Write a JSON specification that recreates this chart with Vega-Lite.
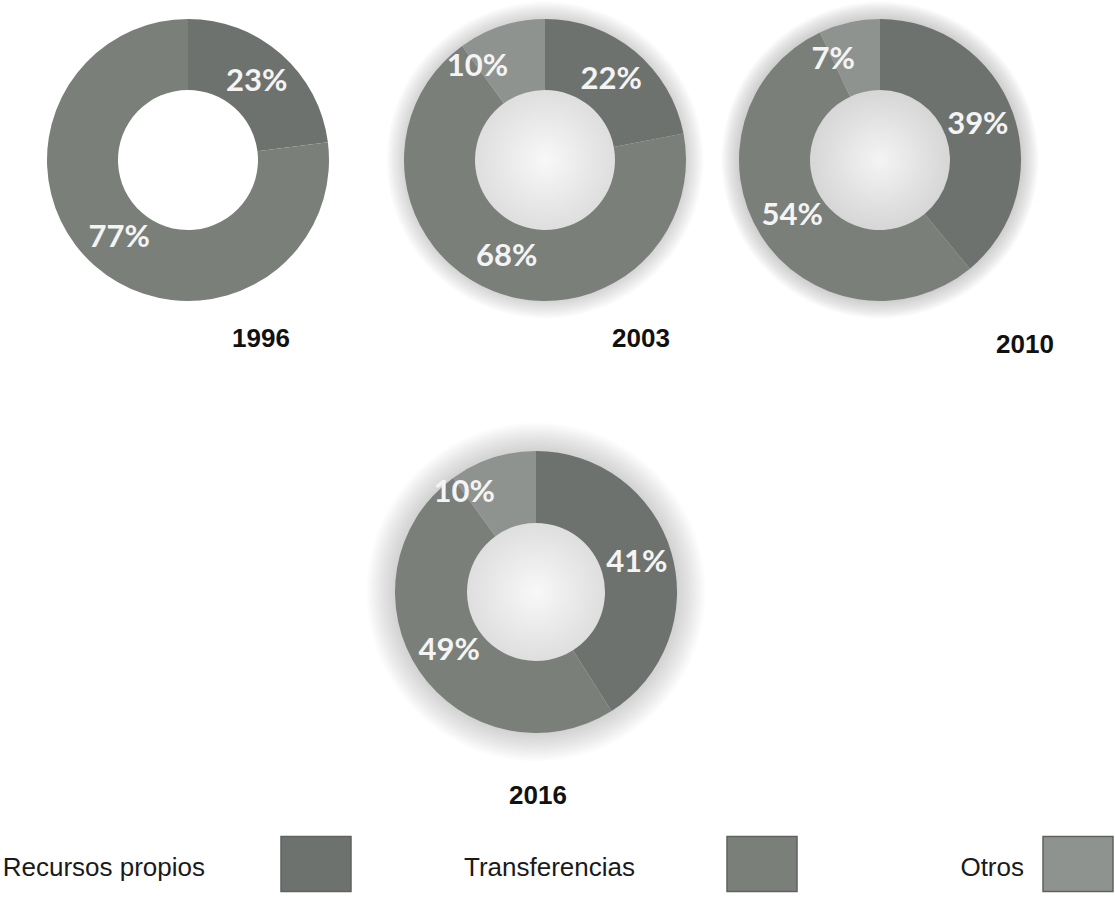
{
  "$schema": "https://vega.github.io/schema/vega-lite/v6.json",
  "padding": 0,
  "autosize": {"type": "pad"},
  "background": "white",
  "spacing": 48,
  "config": {"view": {"stroke": null}},
  "datasets": {
    "fuentes": [
      {"anio": 1996, "fuente": "Recursos propios", "orden": 1, "valor": 0.23},
      {"anio": 1996, "fuente": "Transferencias", "orden": 2, "valor": 0.77},
      {"anio": 2003, "fuente": "Recursos propios", "orden": 1, "valor": 0.22},
      {"anio": 2003, "fuente": "Transferencias", "orden": 2, "valor": 0.68},
      {"anio": 2003, "fuente": "Otros", "orden": 3, "valor": 0.10},
      {"anio": 2010, "fuente": "Recursos propios", "orden": 1, "valor": 0.39},
      {"anio": 2010, "fuente": "Transferencias", "orden": 2, "valor": 0.54},
      {"anio": 2010, "fuente": "Otros", "orden": 3, "valor": 0.07},
      {"anio": 2016, "fuente": "Recursos propios", "orden": 1, "valor": 0.41},
      {"anio": 2016, "fuente": "Transferencias", "orden": 2, "valor": 0.49},
      {"anio": 2016, "fuente": "Otros", "orden": 3, "valor": 0.10}
    ],
    "leyenda": [
      {"fuente": "Recursos propios"},
      {"fuente": "Transferencias"},
      {"fuente": "Otros"}
    ]
  },
  "vconcat": [
    {
      "bounds": "flush",
      "spacing": 0,
      "hconcat": [
        {
          "width": 376, "height": 320,
          "title": {"text": "1996", "orient": "bottom", "anchor": "middle", "dx": 73, "offset": 6, "baseline": "top", "font": "Liberation Sans", "fontSize": 26, "fontWeight": "bold", "color": "#111111"},
          "data": {"name": "fuentes"},
          "transform": [{"filter": "datum.anio == 1996"}],
          "layer": [
            {
              "mark": {"type": "arc", "outerRadius": 141, "innerRadius": 70},
              "encoding": {
                "theta": {"field": "valor", "type": "quantitative", "stack": true, "scale": {"domain": [0, 1]}},
                "color": {"field": "fuente", "type": "nominal", "scale": {"domain": ["Recursos propios", "Transferencias", "Otros"], "range": ["#6e726e", "#7b7f7a", "#8f938f"]}, "legend": null},
                "order": {"field": "orden", "type": "quantitative"}
              }
            },
            {
              "mark": {"type": "text", "radius": 104, "align": "center", "baseline": "middle", "font": "Lato", "fontWeight": "bold", "fontSize": 31, "fill": "#f4f4f4"},
              "encoding": {
                "theta": {"field": "valor", "type": "quantitative", "stack": true, "scale": {"domain": [0, 1]}},
                "detail": {"field": "fuente", "type": "nominal"},
                "order": {"field": "orden", "type": "quantitative"},
                "text": {"field": "valor", "type": "quantitative", "format": ".0%"}
              }
            }
          ]
        },
        {
          "width": 338, "height": 320,
          "title": {"text": "2003", "orient": "bottom", "anchor": "middle", "dx": 96, "offset": 6, "baseline": "top", "font": "Liberation Sans", "fontSize": 26, "fontWeight": "bold", "color": "#111111"},
          "data": {"name": "fuentes"},
          "transform": [{"filter": "datum.anio == 2003"}],
          "layer": [
            {
              "data": {"values": [{}]},
              "mark": {"type": "arc", "theta": 0, "theta2": 6.2832, "outerRadius": 159, "innerRadius": 0, "fill": {"gradient": "radial", "x1": 0.5, "y1": 0.5, "r1": 0, "x2": 0.5, "y2": 0.5, "r2": 0.5, "stops": [{"offset": 0, "color": "#f8f8f8"}, {"offset": 0.44, "color": "#dedede"}, {"offset": 0.88, "color": "#d2d2d2"}, {"offset": 0.95, "color": "#ebebeb"}, {"offset": 1, "color": "#ffffff"}]}},
              "encoding": {}
            },
            {
              "mark": {"type": "arc", "outerRadius": 141, "innerRadius": 70},
              "encoding": {
                "theta": {"field": "valor", "type": "quantitative", "stack": true, "scale": {"domain": [0, 1]}},
                "color": {"field": "fuente", "type": "nominal", "scale": {"domain": ["Recursos propios", "Transferencias", "Otros"], "range": ["#6e726e", "#7b7f7a", "#8f938f"]}, "legend": null},
                "order": {"field": "orden", "type": "quantitative"}
              }
            },
            {
              "transform": [{"filter": "datum.fuente != 'Otros'"}],
              "mark": {"type": "text", "radius": 104, "align": "center", "baseline": "middle", "font": "Lato", "fontWeight": "bold", "fontSize": 31, "fill": "#f4f4f4"},
              "encoding": {
                "theta": {"field": "valor", "type": "quantitative", "stack": true, "scale": {"domain": [0, 1]}},
                "detail": {"field": "fuente", "type": "nominal"},
                "order": {"field": "orden", "type": "quantitative"},
                "text": {"field": "valor", "type": "quantitative", "format": ".0%"}
              }
            },
            {
              "transform": [
                {"stack": "valor", "groupby": ["anio"], "sort": [{"field": "orden", "order": "ascending"}], "as": ["v0", "v1"]},
                {"filter": "datum.fuente == 'Otros'"}
              ],
              "mark": {"type": "text", "radius": 115, "align": "center", "baseline": "middle", "font": "Lato", "fontWeight": "bold", "fontSize": 31, "fill": "#f4f4f4"},
              "encoding": {
                "theta": {"field": "v0", "type": "quantitative", "scale": {"domain": [0, 1]}},
                "text": {"field": "valor", "type": "quantitative", "format": ".0%"}
              }
            }
          ]
        },
        {
          "width": 332, "height": 320,
          "title": {"text": "2010", "orient": "bottom", "anchor": "middle", "dx": 145, "offset": 12, "baseline": "top", "font": "Liberation Sans", "fontSize": 26, "fontWeight": "bold", "color": "#111111"},
          "data": {"name": "fuentes"},
          "transform": [{"filter": "datum.anio == 2010"}],
          "layer": [
            {
              "data": {"values": [{}]},
              "mark": {"type": "arc", "theta": 0, "theta2": 6.2832, "outerRadius": 159, "innerRadius": 0, "fill": {"gradient": "radial", "x1": 0.5, "y1": 0.5, "r1": 0, "x2": 0.5, "y2": 0.5, "r2": 0.5, "stops": [{"offset": 0, "color": "#f4f4f4"}, {"offset": 0.44, "color": "#d6d6d6"}, {"offset": 0.88, "color": "#cccccc"}, {"offset": 0.95, "color": "#e6e6e6"}, {"offset": 1, "color": "#ffffff"}]}},
              "encoding": {}
            },
            {
              "mark": {"type": "arc", "outerRadius": 141, "innerRadius": 70},
              "encoding": {
                "theta": {"field": "valor", "type": "quantitative", "stack": true, "scale": {"domain": [0, 1]}},
                "color": {"field": "fuente", "type": "nominal", "scale": {"domain": ["Recursos propios", "Transferencias", "Otros"], "range": ["#6e726e", "#7b7f7a", "#8f938f"]}, "legend": null},
                "order": {"field": "orden", "type": "quantitative"}
              }
            },
            {
              "transform": [{"filter": "datum.fuente != 'Otros'"}],
              "mark": {"type": "text", "radius": 104, "align": "center", "baseline": "middle", "font": "Lato", "fontWeight": "bold", "fontSize": 31, "fill": "#f4f4f4"},
              "encoding": {
                "theta": {"field": "valor", "type": "quantitative", "stack": true, "scale": {"domain": [0, 1]}},
                "detail": {"field": "fuente", "type": "nominal"},
                "order": {"field": "orden", "type": "quantitative"},
                "text": {"field": "valor", "type": "quantitative", "format": ".0%"}
              }
            },
            {
              "transform": [
                {"stack": "valor", "groupby": ["anio"], "sort": [{"field": "orden", "order": "ascending"}], "as": ["v0", "v1"]},
                {"filter": "datum.fuente == 'Otros'"}
              ],
              "mark": {"type": "text", "radius": 110, "align": "center", "baseline": "middle", "font": "Lato", "fontWeight": "bold", "fontSize": 31, "fill": "#f4f4f4"},
              "encoding": {
                "theta": {"field": "v0", "type": "quantitative", "scale": {"domain": [0, 1]}},
                "text": {"field": "valor", "type": "quantitative", "format": ".0%"}
              }
            }
          ]
        }
      ]
    },
    {
      "spacing": 24,
      "vconcat": [
        {
          "width": 1072, "height": 372,
          "title": {"text": "2016", "orient": "bottom", "anchor": "middle", "dx": 2, "offset": 5, "baseline": "top", "font": "Liberation Sans", "fontSize": 26, "fontWeight": "bold", "color": "#111111"},
          "data": {"name": "fuentes"},
          "transform": [{"filter": "datum.anio == 2016"}],
          "layer": [
            {
              "data": {"values": [{}]},
              "mark": {"type": "arc", "theta": 0, "theta2": 6.2832, "outerRadius": 170, "innerRadius": 0, "fill": {"gradient": "radial", "x1": 0.5, "y1": 0.5, "r1": 0, "x2": 0.5, "y2": 0.5, "r2": 0.5, "stops": [{"offset": 0, "color": "#f8f8f8"}, {"offset": 0.41, "color": "#dedede"}, {"offset": 0.83, "color": "#d2d2d2"}, {"offset": 0.92, "color": "#e8e8e8"}, {"offset": 1, "color": "#ffffff"}]}},
              "encoding": {}
            },
            {
              "mark": {"type": "arc", "outerRadius": 141, "innerRadius": 69},
              "encoding": {
                "theta": {"field": "valor", "type": "quantitative", "stack": true, "scale": {"domain": [0, 1]}},
                "color": {"field": "fuente", "type": "nominal", "scale": {"domain": ["Recursos propios", "Transferencias", "Otros"], "range": ["#6e726e", "#7b7f7a", "#8f938f"]}, "legend": null},
                "order": {"field": "orden", "type": "quantitative"}
              }
            },
            {
              "transform": [{"filter": "datum.fuente != 'Otros'"}],
              "mark": {"type": "text", "radius": 105, "align": "center", "baseline": "middle", "font": "Lato", "fontWeight": "bold", "fontSize": 31, "fill": "#f4f4f4"},
              "encoding": {
                "theta": {"field": "valor", "type": "quantitative", "stack": true, "scale": {"domain": [0, 1]}},
                "detail": {"field": "fuente", "type": "nominal"},
                "order": {"field": "orden", "type": "quantitative"},
                "text": {"field": "valor", "type": "quantitative", "format": ".0%"}
              }
            },
            {
              "transform": [
                {"stack": "valor", "groupby": ["anio"], "sort": [{"field": "orden", "order": "ascending"}], "as": ["v0", "v1"]},
                {"filter": "datum.fuente == 'Otros'"}
              ],
              "mark": {"type": "text", "radius": 122, "align": "center", "baseline": "middle", "font": "Lato", "fontWeight": "bold", "fontSize": 31, "fill": "#f4f4f4"},
              "encoding": {
                "theta": {"field": "v0", "type": "quantitative", "scale": {"domain": [0, 1]}},
                "text": {"field": "valor", "type": "quantitative", "format": ".0%"}
              }
            }
          ]
        },
        {
          "bounds": "flush",
          "spacing": 0,
          "hconcat": [
            {
              "width": 149, "height": 56,
              "data": {"values": [{}]},
              "mark": {"type": "text", "text": ""},
              "encoding": {}
            },
            {
              "width": 334, "height": 56,
              "data": {"name": "leyenda"},
              "transform": [{"filter": "datum.fuente == 'Recursos propios'"}],
              "layer": [
                {
                  "mark": {"type": "point", "shape": "M-1,-0.786L1,-0.786L1,0.786L-1,0.786Z", "size": 4900, "filled": true, "opacity": 1, "stroke": "#5f625f", "strokeWidth": 1.5},
                  "encoding": {"color": {"field": "fuente", "type": "nominal", "scale": {"domain": ["Recursos propios", "Transferencias", "Otros"], "range": ["#6e726e", "#7b7f7a", "#8f938f"]}, "legend": null}}
                },
                {
                  "mark": {"type": "text", "align": "right", "baseline": "alphabetic", "dx": -111, "dy": 12, "font": "Liberation Sans", "fontSize": 26, "fill": "#1a1a1a"},
                  "encoding": {"text": {"field": "fuente", "type": "nominal"}}
                }
              ]
            },
            {
              "width": 558, "height": 56,
              "data": {"name": "leyenda"},
              "transform": [{"filter": "datum.fuente == 'Transferencias'"}],
              "layer": [
                {
                  "mark": {"type": "point", "shape": "M-1,-0.786L1,-0.786L1,0.786L-1,0.786Z", "size": 4900, "filled": true, "opacity": 1, "stroke": "#5f625f", "strokeWidth": 1.5},
                  "encoding": {"color": {"field": "fuente", "type": "nominal", "scale": {"domain": ["Recursos propios", "Transferencias", "Otros"], "range": ["#6e726e", "#7b7f7a", "#8f938f"]}, "legend": null}}
                },
                {
                  "mark": {"type": "text", "align": "right", "baseline": "alphabetic", "dx": -127, "dy": 12, "font": "Liberation Sans", "fontSize": 26, "fill": "#1a1a1a"},
                  "encoding": {"text": {"field": "fuente", "type": "nominal"}}
                }
              ]
            },
            {
              "width": 74, "height": 56,
              "data": {"name": "leyenda"},
              "transform": [{"filter": "datum.fuente == 'Otros'"}],
              "layer": [
                {
                  "mark": {"type": "point", "shape": "M-1,-0.786L1,-0.786L1,0.786L-1,0.786Z", "size": 4900, "filled": true, "opacity": 1, "stroke": "#5f625f", "strokeWidth": 1.5},
                  "encoding": {"color": {"field": "fuente", "type": "nominal", "scale": {"domain": ["Recursos propios", "Transferencias", "Otros"], "range": ["#6e726e", "#7b7f7a", "#8f938f"]}, "legend": null}}
                },
                {
                  "mark": {"type": "text", "align": "right", "baseline": "alphabetic", "dx": -54, "dy": 12, "font": "Liberation Sans", "fontSize": 26, "fill": "#1a1a1a"},
                  "encoding": {"text": {"field": "fuente", "type": "nominal"}}
                }
              ]
            }
          ]
        }
      ]
    }
  ]
}
